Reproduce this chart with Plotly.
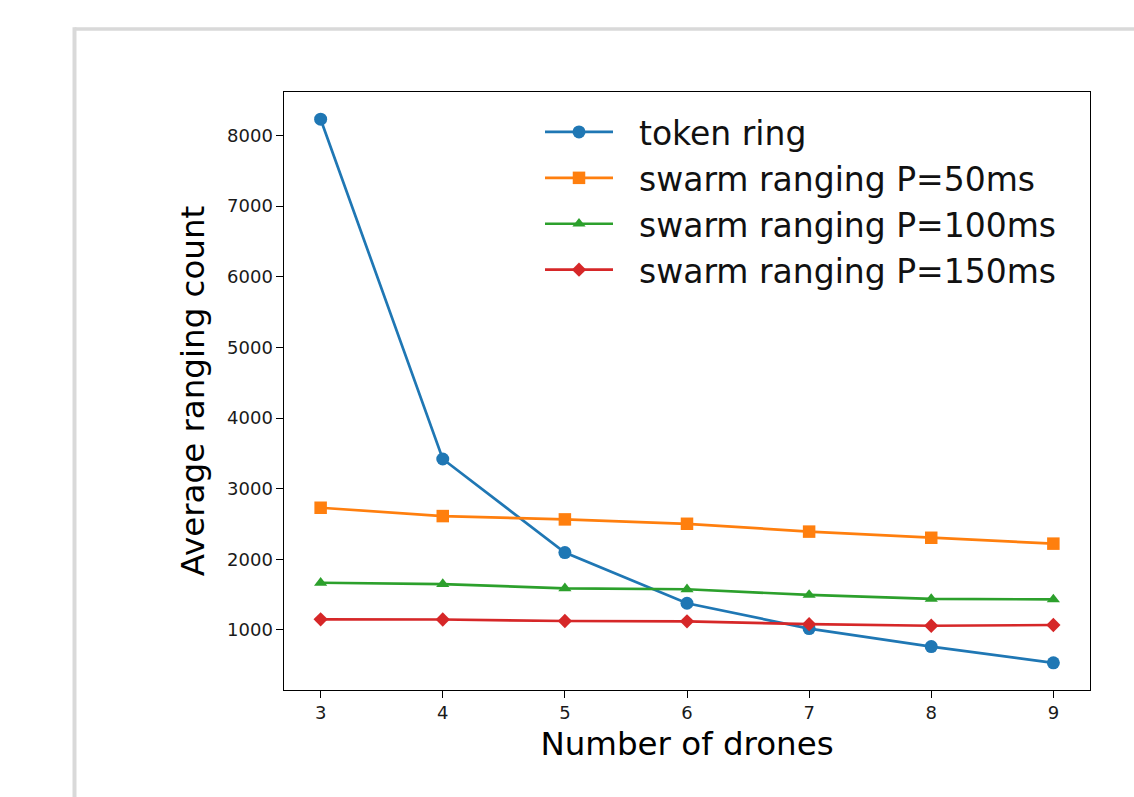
import plotly.graph_objects as go

# Number of drones in the swarm
drones = [3, 4, 5, 6, 7, 8, 9]

# Average ranging count per scheme
token_ring = [8230, 3420, 2095, 1378, 1020, 765, 535]
swarm_50ms = [2730, 2612, 2565, 2503, 2392, 2305, 2222]
swarm_100ms = [1668, 1650, 1590, 1576, 1496, 1440, 1433]
swarm_150ms = [1150, 1148, 1127, 1122, 1082, 1060, 1070]

series_names = [
    "token ring",
    "swarm ranging P=50ms",
    "swarm ranging P=100ms",
    "swarm ranging P=150ms",
]
series_values = [token_ring, swarm_50ms, swarm_100ms, swarm_150ms]

y_ticks = [1000, 2000, 3000, 4000, 5000, 6000, 7000, 8000]

colors = ["#1f77b4", "#ff7f0e", "#2ca02c", "#d62728"]
symbols = ["circle", "square", "triangle-up", "diamond"]
sizes = [13, 12.5, 11.5, 11]

W, H = 1134, 797
L, R, T, B = 284, 1090, 92, 690.5  # plot area in pixels

fig = go.Figure()
for name, vals, c, s, sz in zip(series_names, series_values, colors, symbols, sizes):
    fig.add_trace(go.Scatter(
        x=drones, y=vals,
        # two no-break spaces widen the gap between legend handle and label
        name="\u00a0\u00a0" + name,
        mode="lines+markers",
        line=dict(color=c, width=2.7),
        marker=dict(symbol=s, size=sz, color=c, line=dict(width=0)),
    ))

# 5% padding around the data, as in the usual auto-scaled axes
all_vals = [v for vals in series_values for v in vals]
ymin, ymax = min(all_vals), max(all_vals)
pad = 0.05 * (ymax - ymin)
xpad = 0.05 * (max(drones) - min(drones))

def px_x(p):
    return (p - L) / (R - L)

def px_y(p):
    return (B - p) / (B - T)

frame_color = "#d9d9d9"
fig.add_shape(type="line", xref="paper", yref="paper",
              x0=px_x(74.5), x1=px_x(W + 10), y0=px_y(29), y1=px_y(29),
              line=dict(color=frame_color, width=3.5), layer="below")
fig.add_shape(type="line", xref="paper", yref="paper",
              x0=px_x(74.5), x1=px_x(74.5), y0=px_y(27.3), y1=px_y(H + 10),
              line=dict(color=frame_color, width=4), layer="below")

axis_common = dict(
    showline=True, linecolor="black", linewidth=1.45, mirror=True,
    ticks="outside", ticklen=6.3, tickwidth=1.45, tickcolor="black",
    showgrid=False, zeroline=False,
    tickfont=dict(family="DejaVu Sans", size=18, color="#1a1a1a"),
)

fig.update_layout(
    width=W, height=H,
    margin=dict(l=L, r=W - R, t=T, b=H - B, pad=0),
    paper_bgcolor="white", plot_bgcolor="white",
    font=dict(family="DejaVu Sans", color="black"),
    xaxis=dict(
        range=[min(drones) - xpad, max(drones) + xpad],
        tickmode="array", tickvals=drones,
        title=dict(text="Number of drones", font=dict(size=32.5), standoff=10),
        **axis_common,
    ),
    yaxis=dict(
        range=[ymin - pad, ymax + pad],
        tickmode="array", tickvals=y_ticks,
        title=dict(text="Average ranging count", font=dict(size=32.5), standoff=12),
        **axis_common,
    ),
    legend=dict(
        x=px_x(540), y=px_y(104), xanchor="left", yanchor="top",
        bgcolor="rgba(0,0,0,0)", borderwidth=0,
        font=dict(family="DejaVu Sans", size=33, color="#111111"),
        itemwidth=68, tracegroupgap=0,
    ),
    showlegend=True,
)

fig.write_html("out.html")
